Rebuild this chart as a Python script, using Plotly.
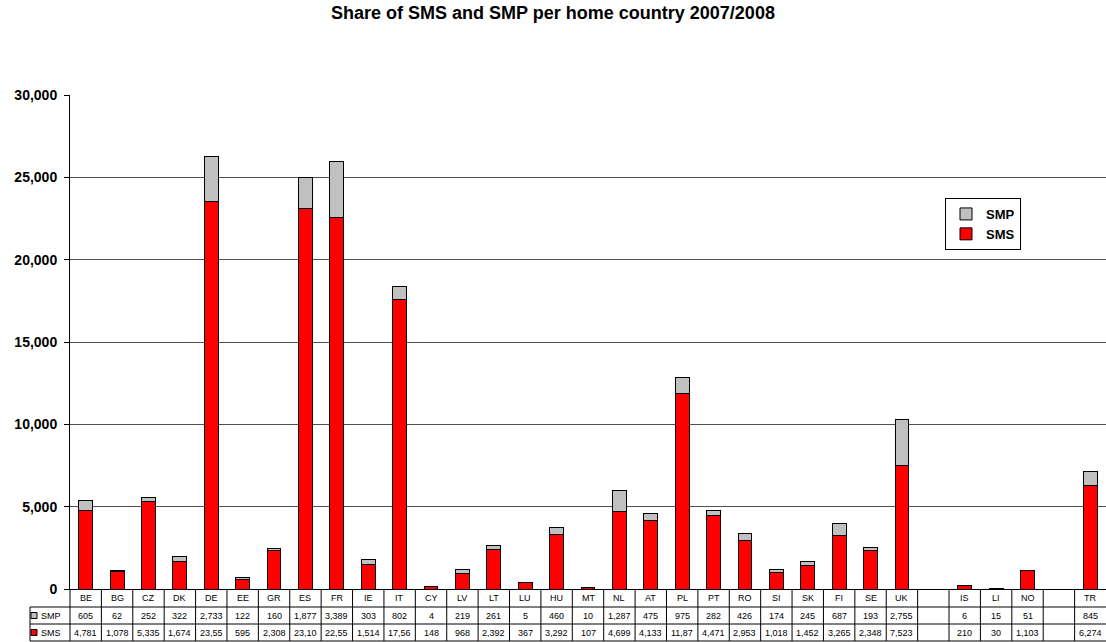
import plotly.graph_objects as go

countries = ["BE", "BG", "CZ", "DK", "DE", "EE", "GR", "ES", "FR", "IE", "IT", "CY", "LV",
             "LT", "LU", "HU", "MT", "NL", "AT", "PL", "PT", "RO", "SI", "SK", "FI", "SE",
             "UK", " ", "IS", "LI", "NO", "  ", "TR"]
smp = [605, 62, 252, 322, 2733, 122, 160, 1877, 3389, 303, 802, 4, 219, 261, 5, 460, 10,
       1287, 475, 975, 282, 426, 174, 245, 687, 193, 2755, None, 6, 15, 51, None, 845]
sms = [4781, 1078, 5335, 1674, 23550, 595, 2308, 23100, 22550, 1514, 17560, 148, 968,
       2392, 367, 3292, 107, 4699, 4133, 11870, 4471, 2953, 1018, 1452, 3265, 2348, 7523,
       None, 210, 30, 1103, None, 6274]

FONT = "Liberation Sans, Arial, sans-serif"
W, H = 1106, 642
L, R, T, B = 70, 0, 95, 53
PW, PH = W - L - R, H - T - B

def py(px):  # pixel y -> paper y
    return (H - B - px) / PH

def pxx(px):  # pixel x -> paper x
    return (px - L) / PW

fig = go.Figure()
fig.add_trace(go.Bar(x=countries, y=sms, name="SMS", legendrank=2,
                     marker=dict(color="#FF0000", line=dict(color="black", width=1))))
fig.add_trace(go.Bar(x=countries, y=smp, name="SMP", legendrank=1,
                     marker=dict(color="#C0C0C0", line=dict(color="black", width=1))))

def fmt(v):
    if v is None:
        return ""
    return f"{v:,}"[:5]

LINE = dict(color="black", width=1)
shapes = []
annotations = []
zero = H - B
rows = [zero, 607, 624, 641]
# horizontal table lines
shapes.append(dict(type="line", xref="paper", yref="paper", x0=0, x1=1,
                   y0=py(rows[1]), y1=py(rows[1]), line=LINE))
for r in rows[2:]:
    shapes.append(dict(type="line", xref="paper", yref="paper", x0=pxx(30), x1=1,
                       y0=py(r), y1=py(r), line=LINE))
shapes.append(dict(type="line", xref="paper", yref="paper", x0=pxx(30), x1=0,
                   y0=py(607), y1=py(607), line=LINE))
# left border of label column
shapes.append(dict(type="line", xref="paper", yref="paper", x0=pxx(30), x1=pxx(30),
                   y0=py(607), y1=py(641), line=LINE))
# axis-edge vertical line
shapes.append(dict(type="line", xref="paper", yref="paper", x0=0, x1=0,
                   y0=0, y1=py(641), line=LINE))
# column separators
for i in range(1, len(countries)):
    shapes.append(dict(type="line", xref="x", yref="paper", x0=i - 0.5, x1=i - 0.5,
                       y0=0, y1=py(641), line=LINE))

centers = [(rows[0] + rows[1]) / 2, (rows[1] + rows[2]) / 2, (rows[2] + rows[3]) / 2]
for c, v1, v2 in zip(countries, smp, sms):
    for txt, yc in ((c.strip(), centers[0]), (fmt(v1), centers[1]), (fmt(v2), centers[2])):
        if txt:
            annotations.append(dict(x=c, y=py(yc), xref="x", yref="paper", text=txt,
                                    showarrow=False, xanchor="center", yanchor="middle",
                                    font=dict(family=FONT, size=9, color="black")))

# row labels with legend keys
for name, col, yc in (("SMP", "#C0C0C0", centers[1]), ("SMS", "#FF0000", centers[2])):
    shapes.append(dict(type="rect", xref="paper", yref="paper", x0=pxx(31), x1=pxx(37),
                       y0=py(yc + 3), y1=py(yc - 3), fillcolor=col,
                       line=dict(color="black", width=1)))
    annotations.append(dict(x=pxx(39), y=py(yc), xref="paper", yref="paper", text=name,
                            showarrow=False, xanchor="left", yanchor="middle",
                            font=dict(family=FONT, size=9, color="black")))

fig.update_layout(
    width=W, height=H,
    margin=dict(l=L, r=R, t=T, b=B, autoexpand=False),
    paper_bgcolor="white", plot_bgcolor="white",
    barmode="stack", bargap=0.56,
    title=dict(text="<b>Share of SMS and SMP per home country 2007/2008</b>",
               x=0.5, xanchor="center", y=1 - 6 / H, yanchor="top",
               font=dict(family=FONT, size=18, color="black")),
    xaxis=dict(type="category", categoryorder="array", categoryarray=countries,
               range=[-0.5, len(countries) - 0.5], showticklabels=False, ticks="",
               showgrid=False, showline=True, linecolor="black", linewidth=1, zeroline=False),
    yaxis=dict(range=[0, 30000], dtick=5000, tickformat=",.0f", showgrid=True,
               gridcolor="#505050", gridwidth=1, showline=True, linecolor="black",
               linewidth=1, ticks="outside", ticklen=5, tickcolor="black", zeroline=False,
               ticklabelstandoff=4,
               tickfont=dict(family=FONT, size=14, color="black", weight="bold")),
    legend=dict(x=pxx(945), y=py(198), xanchor="left", yanchor="top",
                traceorder="normal",
                bgcolor="white", bordercolor="black", borderwidth=1,
                itemwidth=30,
                font=dict(family=FONT, size=13, color="black", weight="bold")),
    shapes=shapes, annotations=annotations, showlegend=True,
)

fig.write_html("out.html")
